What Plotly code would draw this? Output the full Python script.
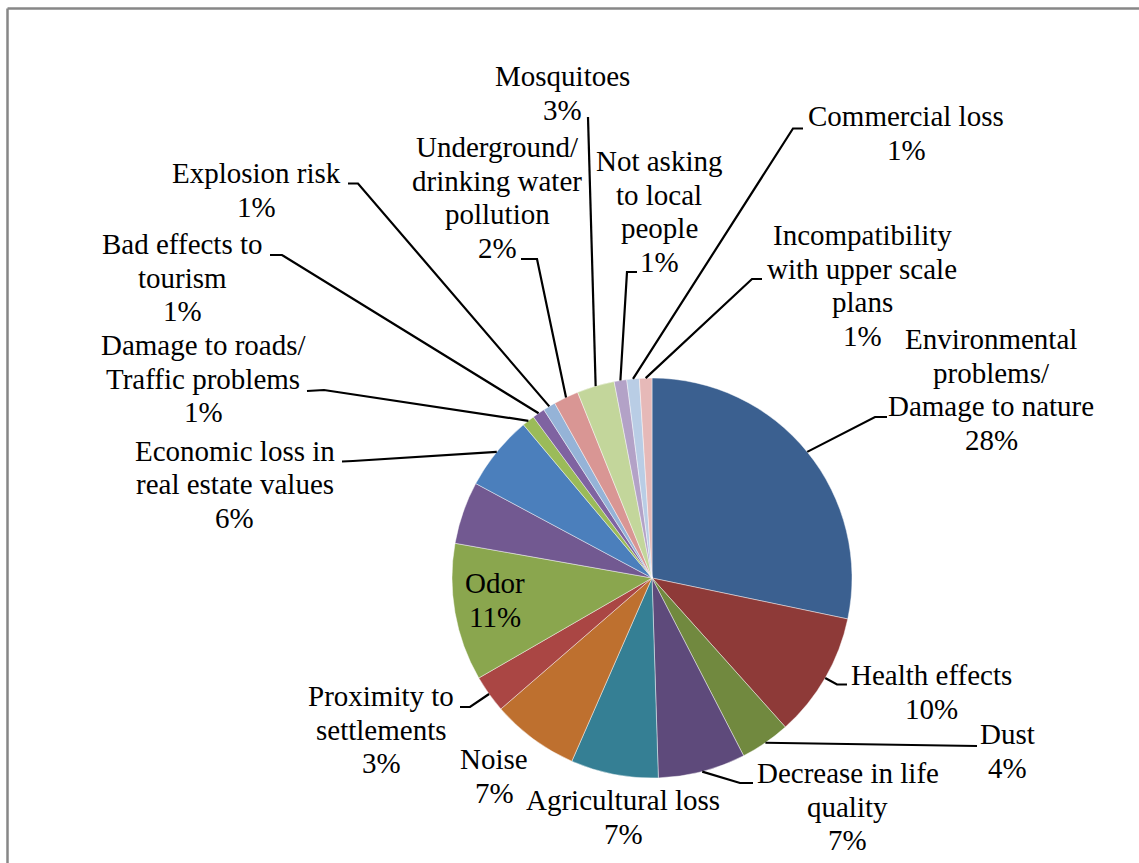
import math
import plotly.graph_objects as go

W, H = 1139, 863

# Slices in clockwise order starting at 12 o'clock
labels = [
    "Environmental problems/ Damage to nature",
    "Health effects",
    "Dust",
    "Decrease in life quality",
    "Agricultural loss",
    "Noise",
    "Proximity to settlements",
    "Odor",
    "",
    "Economic loss in real estate values",
    "Damage to roads/ Traffic problems",
    "Bad effects to tourism",
    "Explosion risk",
    "Underground/ drinking water pollution",
    "Mosquitoes",
    "Not asking to local people",
    "Commercial loss",
    "Incompatibility with upper scale plans",
]
values = [28, 10, 4, 7, 7, 7, 3, 11, 5, 6, 1, 1, 1, 2, 3, 1, 1, 1]
colors = [
    "#3B6090", "#8E3A38", "#71893F", "#5E4A7B", "#357F94", "#BE702F",
    "#AA4644", "#8AA64E", "#725991", "#4B7FBC", "#9BBB59", "#7F63A1",
    "#95B3D7", "#D99694", "#C3D69B", "#B3A2C7", "#B9CDE5", "#E6B9B8",
]

# Wrapped label lines (the percentage line is added from the value)
label_lines = [
    ["Environmental", "problems/", "Damage to nature"],
    ["Health effects"],
    ["Dust"],
    ["Decrease in life", "quality"],
    ["Agricultural loss"],
    ["Noise"],
    ["Proximity to", "settlements"],
    ["Odor"],
    None,
    ["Economic loss in", "real estate values"],
    ["Damage to roads/", "Traffic problems"],
    ["Bad effects to", "tourism"],
    ["Explosion risk"],
    ["Underground/", "drinking water", "pollution"],
    ["Mosquitoes"],
    ["Not asking", "to local", "people"],
    ["Commercial loss"],
    ["Incompatibility", "with upper scale", "plans"],
]

# Label placement in pixels: centre x, first baseline y, leader elbow, leader end
label_pos = [
    (991, 349.3, (875, 417), (887, 417)),
    (931, 685, (837, 684.5), (847, 684.5)),
    (1007, 744, None, (977, 746)),
    (847.5, 783.3, (740, 783), (753, 783)),
    (623, 810, None, None),
    (494, 769, None, None),
    (381, 706, (470, 707), (460, 707)),
    (495, 593.3, None, None),
    None,
    (234.5, 460.7, (353, 461), (342, 461.5)),
    (203, 355, (324, 390), (307, 391)),
    (182.5, 254, (282, 255), (270, 255)),
    (256.7, 183.3, (358, 183.5), (348, 183.5)),
    (497, 157, (537, 259), (521, 259)),
    (562, 86, None, (588, 117)),
    (659, 171, (627, 272), (637, 272)),
    (906, 126, (793, 128.5), (803, 128.5)),
    (862, 245, (752, 279), (762, 279)),
]

# Pie geometry in pixels
CX, CY, R = 652, 578, 200
FONT = "Liberation Serif, Times New Roman, serif"
FS = 29
LINE_H = 33.5


def px(x):
    return x / W


def py(y):
    return 1 - y / H


fig = go.Figure()
fig.add_trace(go.Pie(
    labels=labels,
    values=values,
    sort=False,
    direction="clockwise",
    rotation=0,
    marker=dict(colors=colors, line=dict(color="rgba(255,255,255,0.55)", width=0.8)),
    textinfo="none",
    hoverinfo="label+percent",
    domain=dict(x=[px(CX - R), px(CX + R)], y=[py(CY + R), py(CY - R)]),
    showlegend=False,
))

annotations = []
shapes = []
total = sum(values)
cum = 0
for v, lines, pos in zip(values, label_lines, label_pos):
    mid = (cum + v / 2) / total * 2 * math.pi
    cum += v
    if lines is None:
        continue
    cx, base, elbow, end = pos
    all_lines = lines + [f"{v}%"]
    for i, t in enumerate(all_lines):
        b = base + i * LINE_H
        annotations.append(dict(
            text=t, x=px(cx), y=py(b - 0.34 * FS), xref="paper", yref="paper",
            xanchor="center", yanchor="middle", showarrow=False,
            font=dict(family=FONT, size=FS, color="#000000"),
        ))
    if end is not None:
        ax = CX + R * math.sin(mid)
        ay = CY - R * math.cos(mid)
        pts = [(ax, ay)] + ([elbow] if elbow else []) + [end]
        path = "M " + " L ".join(f"{px(x):.5f},{py(y):.5f}" for x, y in pts)
        shapes.append(dict(type="path", path=path, xref="paper", yref="paper",
                           line=dict(color="#000000", width=2.2)))

# Chart frame (left and top edges)
shapes.append(dict(type="line", xref="paper", yref="paper",
                   x0=px(7.5), x1=px(7.5), y0=py(8.5), y1=0,
                   line=dict(color="#878787", width=2.5)))
shapes.append(dict(type="line", xref="paper", yref="paper",
                   x0=px(7.5), x1=1, y0=py(8.5), y1=py(8.5),
                   line=dict(color="#878787", width=2.5)))

fig.update_layout(
    width=W, height=H,
    margin=dict(l=0, r=0, t=0, b=0),
    paper_bgcolor="#FFFFFF",
    plot_bgcolor="#FFFFFF",
    font=dict(family=FONT),
    annotations=annotations,
    shapes=shapes,
)

fig.write_html("out.html")
